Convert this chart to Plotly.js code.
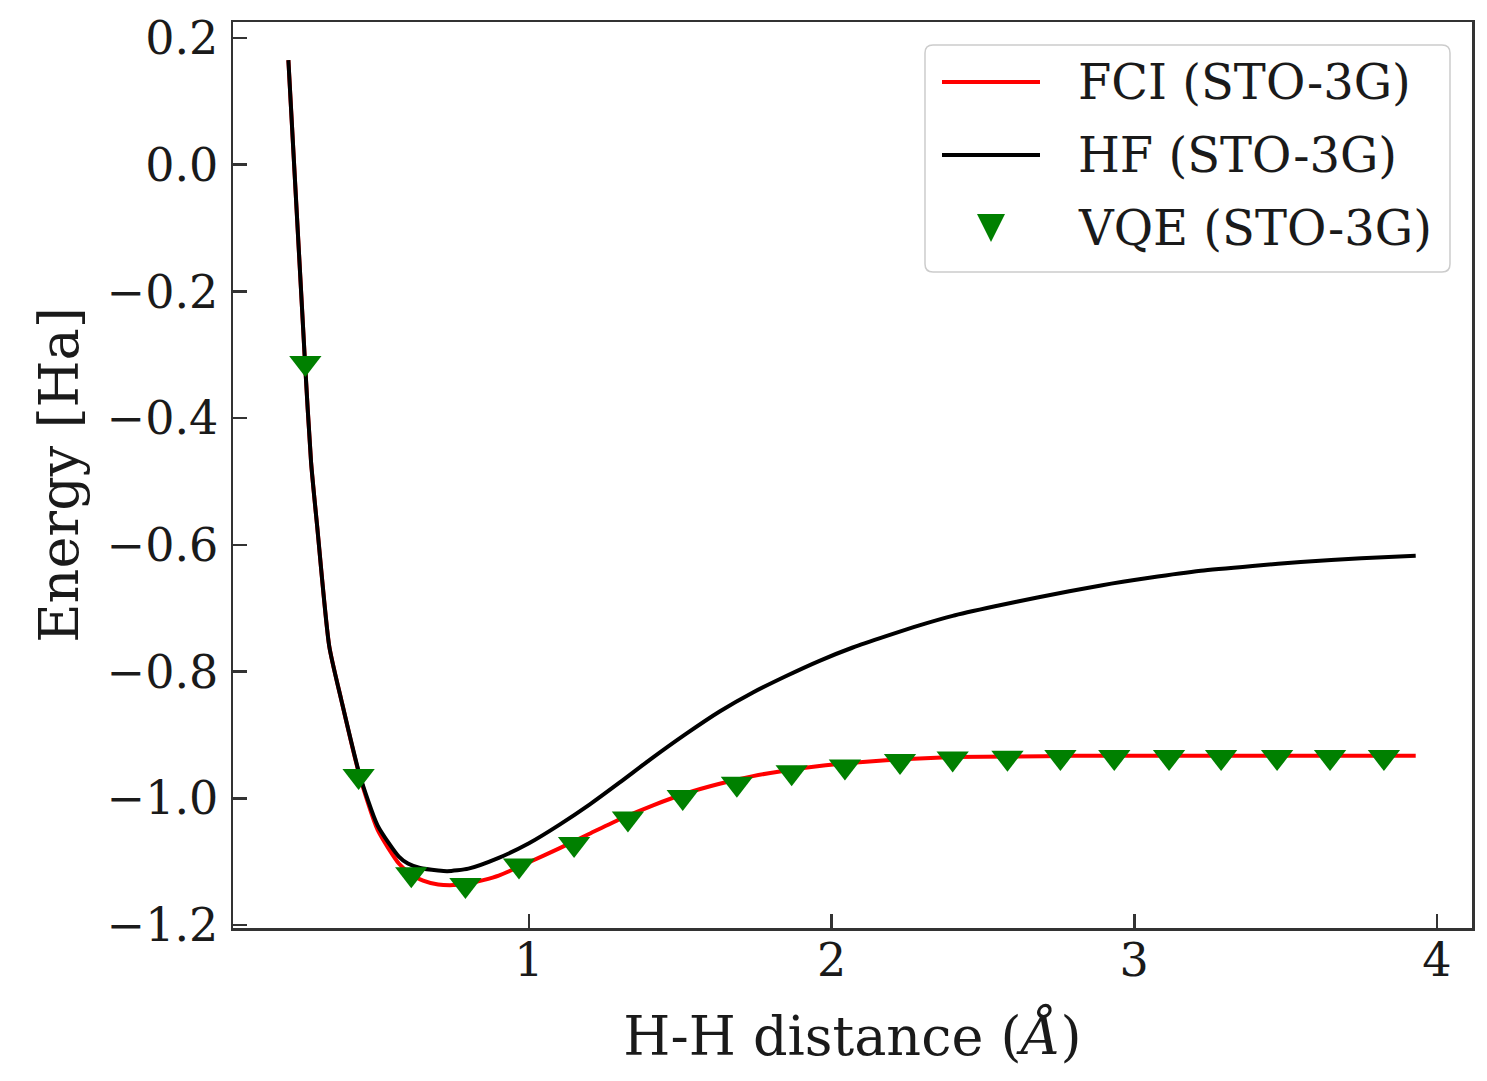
<!DOCTYPE html>
<html><head><meta charset="utf-8">
<script src="https://cdn.plot.ly/plotly-3.0.1.min.js"></script>
<style>html,body{margin:0;padding:0;background:#fff}</style>
</head><body><div id="chart" style="width:1487px;height:1081px"></div>
<script>
// ---- data ----
const hfX = [0.205, 0.26, 0.28, 0.30, 0.34, 0.38, 0.44, 0.50, 0.57, 0.60, 0.64, 0.70, 0.73, 0.80, 0.90, 1.00, 1.10, 1.20, 1.30, 1.40, 1.52, 1.63, 1.74, 1.85, 1.96, 2.07, 2.18, 2.29, 2.40, 2.54, 2.68, 2.89, 3.05, 3.22, 3.40, 3.55, 3.75, 3.93];
const hfY = [0.165, -0.313, -0.47, -0.57, -0.76, -0.845, -0.962, -1.043, -1.092, -1.103, -1.110, -1.114, -1.115, -1.111, -1.094, -1.071, -1.042, -1.010, -0.975, -0.939, -0.898, -0.863, -0.833, -0.807, -0.783, -0.762, -0.744, -0.727, -0.712, -0.697, -0.683, -0.664, -0.652, -0.641, -0.633, -0.627, -0.621, -0.617];

const fciX = [0.205, 0.26, 0.28, 0.30, 0.34, 0.38, 0.44, 0.50, 0.57, 0.60, 0.65, 0.70, 0.75, 0.80, 0.90, 1.00, 1.10, 1.20, 1.30, 1.41, 1.52, 1.63, 1.74, 1.85, 1.96, 2.07, 2.18, 2.29, 2.40, 2.60, 2.80, 3.00, 3.30, 3.60, 3.93];
const fciY = [0.165, -0.313, -0.47, -0.57, -0.76, -0.845, -0.964, -1.050, -1.103, -1.116, -1.130, -1.136, -1.137, -1.135, -1.122, -1.101, -1.079, -1.056, -1.033, -1.011, -0.992, -0.977, -0.965, -0.956, -0.949, -0.944, -0.940, -0.937, -0.935, -0.934, -0.933, -0.933, -0.933, -0.933, -0.933];

const vqeX = [0.261, 0.437, 0.611, 0.790, 0.967, 1.149, 1.327, 1.508, 1.687, 1.868, 2.044, 2.226, 2.400, 2.581, 2.756, 2.934, 3.115, 3.287, 3.472, 3.647, 3.825];
const vqeY = [-0.313, -0.965, -1.120, -1.137, -1.106, -1.072, -1.032, -0.998, -0.977, -0.959, -0.950, -0.941, -0.937, -0.936, -0.935, -0.935, -0.935, -0.935, -0.935, -0.935, -0.935];

const seriesNames = ['FCI (STO-3G)', 'HF (STO-3G)', 'VQE (STO-3G)'];
const xTicks = [1, 2, 3, 4];
const yTicks = [-1.2, -1.0, -0.8, -0.6, -0.4, -0.2, 0.0, 0.2];
const xTitle = 'H-H distance (<i>Å</i>)';
const yTitle = 'Energy [Ha]';

// ---- layout geometry ----
const W = 1487, H = 1081;
const PL = 233, PR = 1472, PT = 22, PB = 928;
const FONT = 'DejaVu Serif, Liberation Serif, serif';
const AX = '#333333';
const TXT = '#1a1a1a';

function px(x) { return (x - PL) / (PR - PL); }
function py(y) { return (PB - y) / (PB - PT); }
function P(x, y) { return px(x).toFixed(5) + ',' + py(y).toFixed(5); }

const traces = [
  { x: fciX, y: fciY, name: seriesNames[0], mode: 'lines', line: { color: '#ff0000', width: 4, shape: 'spline', smoothing: 0.6 }, hoverinfo: 'skip' },
  { x: hfX, y: hfY, name: seriesNames[1], mode: 'lines', line: { color: '#000000', width: 4, shape: 'spline', smoothing: 0.6 }, hoverinfo: 'skip' },
  { x: vqeX, y: vqeY, name: seriesNames[2], mode: 'markers', marker: { symbol: 'triangle-down', color: '#008000', size: 28 }, hoverinfo: 'skip' }
];

// custom legend (matplotlib look)
const L = 925, R = 1450, T = 45, B = 272, r = 8;
const framePath = 'M' + P(L + r, T) + ' L' + P(R - r, T) + ' Q' + P(R, T) + ' ' + P(R, T + r) +
  ' L' + P(R, B - r) + ' Q' + P(R, B) + ' ' + P(R - r, B) + ' L' + P(L + r, B) + ' Q' + P(L, B) + ' ' + P(L, B - r) +
  ' L' + P(L, T + r) + ' Q' + P(L, T) + ' ' + P(L + r, T) + ' Z';
const rows = [82, 155, 228];
const shapes = [
  { type: 'path', xref: 'paper', yref: 'paper', path: framePath, line: { color: '#cccccc', width: 1.5 }, fillcolor: 'rgba(255,255,255,0.8)', layer: 'above' },
  { type: 'line', xref: 'paper', yref: 'paper', x0: px(942), x1: px(1040), y0: py(rows[0]), y1: py(rows[0]), line: { color: '#ff0000', width: 4 }, layer: 'above' },
  { type: 'line', xref: 'paper', yref: 'paper', x0: px(942), x1: px(1040), y0: py(rows[1]), y1: py(rows[1]), line: { color: '#000000', width: 4 }, layer: 'above' },
  { type: 'path', xref: 'paper', yref: 'paper', path: 'M' + P(977, rows[2] - 14) + ' L' + P(1005, rows[2] - 14) + ' L' + P(991, rows[2] + 14) + ' Z', line: { width: 0 }, fillcolor: '#008000', layer: 'above' }
];
const annotations = rows.map((yy, i) => ({
  xref: 'paper', yref: 'paper', x: px(1076), y: py(yy), xanchor: 'left', yanchor: 'middle',
  text: seriesNames[i], showarrow: false, font: { family: FONT, size: 48, color: TXT }
}));

const layout = {
  width: W, height: H,
  margin: { l: PL, r: W - PR, t: PT, b: H - PB, pad: 0 },
  paper_bgcolor: '#ffffff', plot_bgcolor: '#ffffff',
  showlegend: false,
  font: { family: FONT, color: TXT },
  xaxis: {
    range: [0.022, 4.116], tickvals: xTicks, ticktext: xTicks.map(String),
    ticks: 'inside', ticklen: 14, tickwidth: 2.5, tickcolor: AX,
    showline: true, linecolor: AX, linewidth: 2.5, mirror: true,
    showgrid: false, zeroline: false,
    tickfont: { family: FONT, size: 46, color: TXT },
    ticklabelstandoff: -10,
    title: { text: xTitle, font: { family: FONT, size: 54, color: TXT }, standoff: 32 },
    automargin: false
  },
  yaxis: {
    range: [-1.2047, 0.2252], tickvals: yTicks, tickformat: '.1f',
    ticks: 'inside', ticklen: 14, tickwidth: 2.5, tickcolor: AX,
    showline: true, linecolor: AX, linewidth: 2.5, mirror: true,
    showgrid: false, zeroline: false,
    tickfont: { family: FONT, size: 46, color: TXT },
    ticklabelstandoff: 3,
    title: { text: yTitle, font: { family: FONT, size: 54, color: TXT }, standoff: 11 },
    automargin: false
  },
  shapes: shapes,
  annotations: annotations
};

Plotly.newPlot('chart', traces, layout, { staticPlot: true, displayModeBar: false });
</script>
</body></html>
